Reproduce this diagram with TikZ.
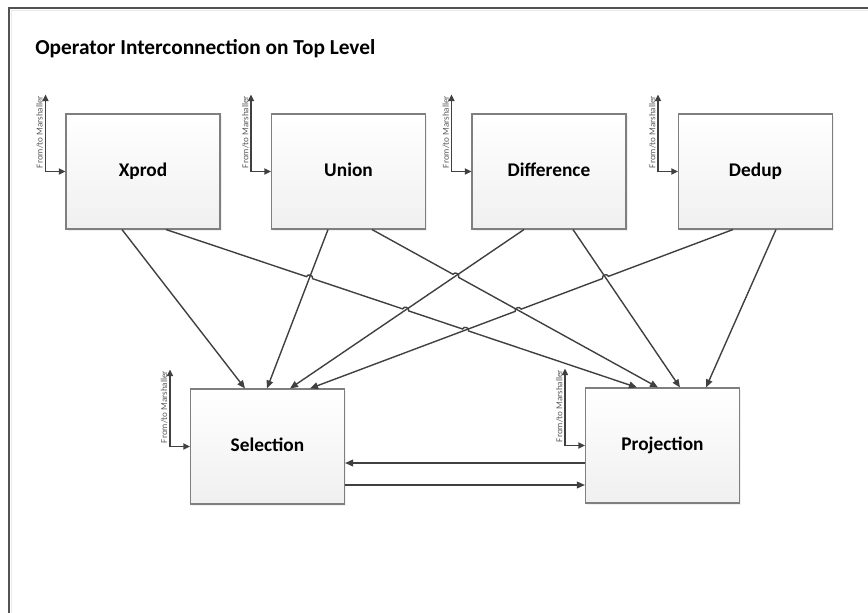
\documentclass[tikz,border=0pt]{standalone}
\usepackage{fontspec}
\setmainfont{Carlito}
\usetikzlibrary{arrows.meta,calc,intersections,shadows}
\definecolor{linegray}{HTML}{404040}
\definecolor{boxborder}{HTML}{7F7F7F}
\definecolor{labelgray}{HTML}{5A5A5A}
\tikzset{
  opbox/.style={draw=boxborder, line width=0.8pt, top color=white, bottom color=black!6,
    minimum width=115.5pt, minimum height=86.25pt, text height=10pt, text depth=2.5pt,
    font=\fontsize{14.5}{16}\selectfont\bfseries,
    drop shadow={opacity=0.12, shadow xshift=1.2pt, shadow yshift=-1.2pt}},
  link/.style={draw=linegray, line width=1.05pt, -{Triangle[length=6pt,width=5pt]}},
  marsh/.style={draw=linegray, line width=1.3pt, {Triangle[length=5pt,width=4.5pt]}-{Triangle[length=5pt,width=4.5pt]}},
  marshtext/.style={rotate=90, font=\fontsize{6.8}{7}\selectfont, text=labelgray, inner sep=0.8pt, anchor=south},
  hop/.style={bend left=90, looseness=1.4},
  hopr/.style={bend right=90, looseness=1.4}
}
\begin{document}
\begin{tikzpicture}[x=0.75pt, y=-0.75pt]
\useasboundingbox (0,0) rectangle (868,612);
% page frame
\draw[draw=black!68, line width=1.2pt] (9,620) -- (9,8) -- (880,8);
\draw[draw=black!8, line width=0.8pt] (11.5,620) -- (11.5,10.5) -- (880,10.5);

% title
\node[anchor=base west, font=\fontsize{16}{18}\selectfont\bfseries, inner sep=0pt] (title) at (35,54) {Operator Interconnection on Top Level};

% operator boxes
\node[opbox] (xprod) at (143,171.5) {Xprod};
\node[opbox] (union) at (348.5,171.5) {Union};
\node[opbox] (diff) at (549,171.5) {Difference};
\node[opbox] (dedup) at (755.5,171.5) {Dedup};
\node[opbox] (sel) at (267.5,446.5) {Selection};
\node[opbox] (proj) at (662.5,445.5) {Projection};

% marshaller ports
\foreach \b in {xprod,union,diff,dedup,sel,proj}{
  \coordinate (\b-mt) at ($(\b.north west)+(-20,-19)$);
  \draw[marsh] (\b-mt) |- (\b.west);
  \node[marshtext] (\b-ml) at ($(\b-mt)!0.5!(\b-mt |- \b.west)+(-1,-1)$) {From/to Marshaller};
}

% connector end points
\coordinate (a1) at ($(xprod.south)+(-21,0)$);
\coordinate (b1) at ($(xprod.south)+(23,0)$);
\coordinate (c1) at ($(union.south)+(-20.5,0)$);
\coordinate (d1) at ($(union.south)+(23.5,0)$);
\coordinate (e1) at ($(diff.south)+(-25,0)$);
\coordinate (f1) at ($(diff.south)+(24,0)$);
\coordinate (g1) at ($(dedup.south)+(-22.5,0)$);
\coordinate (h1) at ($(dedup.south)+(20.5,0)$);
\coordinate (a2) at ($(sel.north)+(-22.5,0)$);
\coordinate (c2) at ($(sel.north)+(-0.5,0)$);
\coordinate (e2) at ($(sel.north)+(22.5,0)$);
\coordinate (g2) at ($(sel.north)+(42.5,0)$);
\coordinate (b2) at ($(proj.north)+(-25.5,0)$);
\coordinate (d2) at ($(proj.north)+(-4.5,0)$);
\coordinate (f2) at ($(proj.north)+(17.5,0)$);
\coordinate (h2) at ($(proj.north)+(43.5,0)$);

% crossing points
\path[name path=pb] (b1) -- (b2);
\path[name path=pc] (c1) -- (c2);
\path[name path=pd] (d1) -- (d2);
\path[name path=pe] (e1) -- (e2);
\path[name path=pf] (f1) -- (f2);
\path[name path=pg] (g1) -- (g2);
\path[name intersections={of=pb and pc, by=xbc}];
\path[name intersections={of=pb and pe, by=xbe}];
\path[name intersections={of=pb and pg, by=xbg}];
\path[name intersections={of=pd and pe, by=xde}];
\path[name intersections={of=pg and pd, by=xgd}];
\path[name intersections={of=pg and pf, by=xgf}];

% straight connectors
\draw[link] (a1) -- (a2);
\draw[link] (c1) -- (c2);
\draw[link] (e1) -- (e2);
\draw[link] (f1) -- (f2);
\draw[link] (h1) -- (h2);

% connectors with line hops
\draw[link] (b1) -- ($(xbc)!2.4pt!(b1)$) to[hop] ($(xbc)!2.4pt!(b2)$)
  -- ($(xbe)!2.4pt!(b1)$) to[hop] ($(xbe)!2.4pt!(b2)$)
  -- ($(xbg)!2.4pt!(b1)$) to[hop] ($(xbg)!2.4pt!(b2)$) -- (b2);
\draw[link] (d1) -- ($(xde)!2.4pt!(d1)$) to[hop] ($(xde)!2.4pt!(d2)$) -- (d2);
\draw[link] (g1) -- ($(xgf)!2.4pt!(g1)$) to[hopr] ($(xgf)!2.4pt!(g2)$)
  -- ($(xgd)!2.4pt!(g1)$) to[hopr] ($(xgd)!2.4pt!(g2)$) -- (g2);

% links between selection and projection
\draw[link] (proj.west |- 0,463) -- (sel.east |- 0,463);
\draw[link] (sel.east |- 0,485) -- (proj.west |- 0,485);
\end{tikzpicture}
\end{document}
